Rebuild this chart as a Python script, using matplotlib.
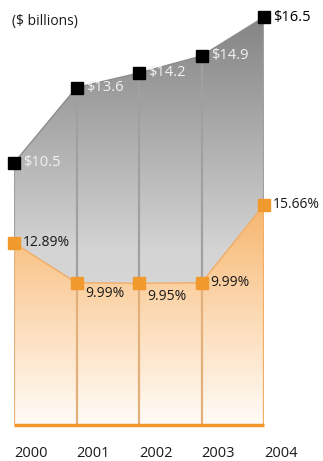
import numpy as np
import matplotlib.pyplot as plt
from matplotlib.patches import Polygon
from matplotlib.colors import LinearSegmentedColormap

plt.rcParams['font.family'] = ['Open Sans', 'DejaVu Sans']

years = [2000, 2001, 2002, 2003, 2004]
revenue = [10.5, 13.6, 14.2, 14.9, 16.5]
margin = [12.89, 9.99, 9.95, 9.99, 15.66]
rev_labels = ['$10.5', '$13.6', '$14.2', '$14.9', '$16.5']
pct_labels = ['12.89%', '9.99%', '9.95%', '9.99%', '15.66%']

W, H = 323, 461
fig = plt.figure(figsize=(W / 100, H / 100), dpi=100)
ax = fig.add_axes([14 / W, (H - 425) / H, (264 - 14) / W, 425 / H])
ax2 = ax.twinx()
ax.set_xlim(2000, 2004)
ax.set_ylim(-0.27, 17.2)
ax2.set_ylim(-0.38, 30.6)
for a in (ax, ax2):
    a.axis('off')

def gradient_fill(a, xs, ys, y0, y1, stops, z):
    cmap = LinearSegmentedColormap.from_list('g', stops)
    grad = np.linspace(0, 1, 256).reshape(-1, 1)
    im = a.imshow(grad, cmap=cmap, aspect='auto', origin='lower',
                  extent=[2000, 2004, y0, y1], zorder=z)
    pts = [(2000, y0)] + list(zip(xs, ys)) + [(2004, y0)]
    poly = Polygon(pts, closed=True, facecolor='none', edgecolor='none')
    a.add_patch(poly)
    im.set_clip_path(poly)

# gray revenue area
gradient_fill(ax, years, revenue, -0.27, max(revenue),
              [(0, '#dedede'), (0.43, '#d4d4d4'), (1, '#848484')], 1)
ax.plot(years, revenue, color='#8c8c8c', lw=1, zorder=2)

# orange margin area
gradient_fill(ax2, years, margin, -0.38, max(margin),
              [(0, '#fffcf8'), (0.6, '#fbd3a6'), (1, '#f6b56e')], 3)
ax2.plot(years, margin, color='#f2ad66', lw=1, zorder=4)

# vertical grid lines
for i, x in enumerate(years):
    ax.plot([x, x], [revenue[i], -0.27], color='#a0a0a0', lw=1.6, zorder=2)
    c = '#f4ad62' if i == 4 else '#e3b07c'
    ax2.plot([x, x], [margin[i], -0.38], color=c, lw=1.6, zorder=4)

ax2.plot([years[0], years[-1]], [-0.38, -0.38], color='#f0962a', lw=2.5,
         zorder=5, clip_on=False, solid_capstyle='butt')

# markers
ax.plot(years, revenue, 's', color='black', ms=8, zorder=6, clip_on=False)
ax2.plot(years, margin, 's', color='#f0992c', ms=8, zorder=6, clip_on=False)

# labels
for i, x in enumerate(years):
    col = 'black' if i == 4 else '#f2f2f2'
    ax.text(x + 0.15, revenue[i], rev_labels[i], color=col, fontsize=10.5,
            va='center', ha='left', zorder=7, clip_on=False)

pct_off = [0, -0.8, -0.95, 0, 0]
for i, x in enumerate(years):
    ax2.text(x + 0.14, margin[i] + pct_off[i], pct_labels[i], color='#1a1a1a',
             fontsize=10, va='center', ha='left', zorder=7, clip_on=False)

for x in years:
    fig.text((14 + (x - 2000) * 62.5) / W, 1 - 453 / H, str(x),
             ha='left', va='center', fontsize=10.5, color='#1a1a1a')

fig.text(12 / W, 1 - 21 / H, '($ billions)', ha='left', va='center',
         fontsize=10, color='#1a1a1a')

fig.savefig('out.png', dpi=100)
